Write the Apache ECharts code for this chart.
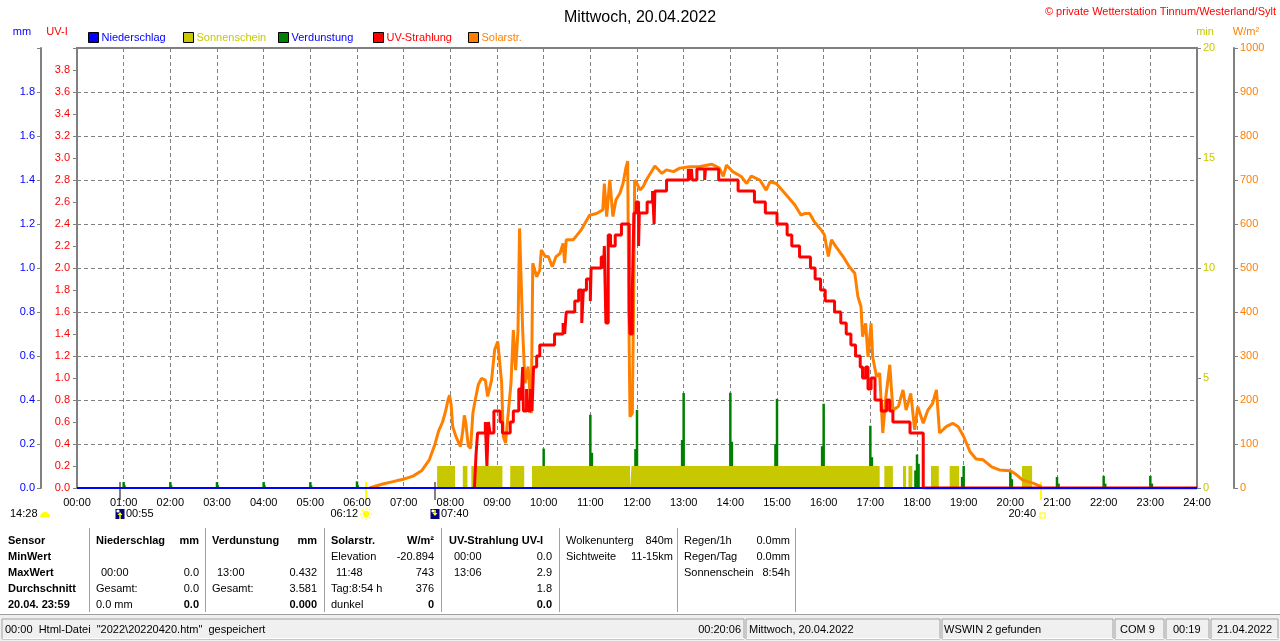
<!DOCTYPE html>
<html><head><meta charset="utf-8">
<script src="https://cdn.jsdelivr.net/npm/echarts/dist/echarts.min.js"></script>
<style>html,body{margin:0;padding:0;background:#fff;}#c{width:1280px;height:641px;}</style>
</head><body><div id="c"></div>
<script>
// ---------- DATA ----------
const hourLabels = ['00:00','01:00','02:00','03:00','04:00','05:00','06:00','07:00','08:00','09:00','10:00','11:00','12:00','13:00','14:00','15:00','16:00','17:00','18:00','19:00','20:00','21:00','22:00','23:00','24:00'];
const seriesNames = ['Niederschlag','Sonnenschein','Verdunstung','UV-Strahlung','Solarstr.'];
// minutes since midnight
const rainData = [[0,0],[1440,0]];
const sunIntervals = [[463,486],[496,502],[507,547],[557,575],[585,711],[713,1032],[1038,1049],[1062,1066],[1069,1074],[1098,1108],[1122,1134],[1215,1228]];
const evapData = [[60,0.027],[61,0.012],[120,0.027],[121,0.012],[180,0.027],[181,0.012],[240,0.027],[241,0.012],[300,0.027],[301,0.012],[360,0.03],[361,0.012],
  [480,0.052],[482,0.024],[538,0.05],[540,0.1],[598,0.09],[600,0.179],[660,0.333],[662,0.16],[718,0.177],[720,0.355],[778,0.218],[780,0.432],
  [840,0.433],[842,0.21],[898,0.2],[900,0.405],[958,0.19],[960,0.383],[1020,0.283],[1022,0.14],[1078,0.08],[1080,0.152],[1082,0.11],
  [1138,0.05],[1140,0.1],[1200,0.079],[1202,0.04],[1260,0.05],[1262,0.02],[1320,0.055],[1322,0.02],[1380,0.055],[1382,0.02]];
const solarData = [[376,0],[378,3],[393,9],[405,14],[415,18],[420,20],[432,27],[443,39],[453,64],[460,98],[465,130],[470,150],[474,175],[477,200],[479,211],[481,190],[483,140],[487,118],[493,94],[496,130],[498,165],[500,147],[503,96],[506,90],[509,170],[512,200],[516,235],[520,249],[525,245],[528,208],[533,245],[537,314],[541,333],[543,336],[546,238],[548,117],[551,102],[554,162],[558,238],[561,359],[564,268],[567,359],[569,590],[571,586],[573,359],[576,238],[580,276],[584,170],[586,511],[591,480],[595,495],[597,541],[602,526],[606,526],[611,503],[616,526],[621,533],[625,556],[627,511],[629,564],[638,564],[648,586],[659,620],[668,624],[676,632],[678,692],[681,617],[685,700],[689,617],[693,655],[698,670],[702,692],[706,730],[708,743],[710,314],[711,162],[714,170],[716,488],[717,700],[720,692],[724,677],[728,685],[732,700],[743,732],[752,715],[758,723],[767,719],[775,727],[788,730],[800,730],[816,736],[826,727],[831,708],[835,734],[843,719],[854,708],[861,692],[867,709],[878,700],[886,677],[891,696],[899,692],[912,666],[923,643],[931,620],[936,624],[942,624],[948,605],[957,586],[961,575],[966,526],[970,564],[976,548],[985,526],[993,503],[1000,488],[1004,435],[1008,412],[1010,344],[1014,374],[1017,298],[1021,374],[1023,298],[1028,253],[1032,261],[1036,125],[1040,208],[1045,280],[1049,177],[1056,185],[1062,223],[1066,177],[1072,215],[1077,132],[1081,185],[1088,147],[1094,177],[1100,192],[1105,223],[1109,125],[1118,140],[1126,147],[1133,139],[1140,117],[1148,83],[1156,66],[1165,64],[1176,48],[1186,41],[1200,39],[1208,30],[1216,18],[1229,11],[1240,3]];
// UV index change points (step)
const uvData = [[511,0],[513,0.3],[515,0.5],[525,0.6],[527,0.2],[529,0.6],[531,0.5],[536,0.7],[544,0.6],[547,0.5],[557,0.6],[561,0.7],[568,0.9],[571,0.8],[573,1.1],[574,0.7],[578,0.9],[580,0.7],[583,0.9],[585,0.7],[587,1.1],[591,1.2],[595,1.3],[614,1.4],[625,1.5],[627,1.4],[629,1.6],[640,1.7],[645,1.8],[649,1.5],[651,1.8],[655,1.9],[660,1.7],[661,2.0],[674,2.1],[677,2.0],[678,2.2],[680,1.5],[683,2.3],[686,2.2],[692,2.3],[700,2.4],[710,1.6],[711,1.4],[714,1.8],[716,2.5],[719,2.6],[722,2.2],[723,2.5],[733,2.6],[740,2.7],[742,2.4],[743,2.7],[758,2.8],[786,2.9],[788,2.8],[790,2.9],[791,2.8],[797,2.9],[807,2.8],[808,2.9],[825,2.8],[850,2.7],[871,2.6],[885,2.5],[900,2.4],[913,2.3],[919,2.2],[929,2.1],[943,2.0],[949,1.9],[956,1.8],[962,1.7],[974,1.6],[982,1.5],[989,1.4],[995,1.3],[1001,1.2],[1007,1.1],[1010,1.0],[1014,1.1],[1017,0.9],[1021,1.0],[1026,0.8],[1034,0.7],[1041,0.8],[1045,0.7],[1049,0.6],[1071,0.5],[1088,0],[1440,0]];
const astroEvents = [ // minute, label, kind
  [55,'00:55','moonrise'],[372,'06:12','sunrise'],[460,'07:40','moonset'],[1240,'20:40','sunset']];
const astroPrev = '14:28';
const tableRowHeads = ['Sensor','MinWert','MaxWert','Durchschnitt','20.04. 23:59'];
const tableCols = [
  {head:['Niederschlag','mm'], rows:[['',''],[' 00:00','0.0'],['Gesamt:','0.0'],['0.0 mm','0.0']]},
  {head:['Verdunstung','mm'], rows:[['',''],[' 13:00','0.432'],['Gesamt:','3.581'],['','0.000']]},
  {head:['Solarstr.','W/m²'], rows:[['Elevation','-20.894'],[' 11:48','743'],['Tag:8:54 h','376'],['dunkel','0']]},
  {head:['UV-Strahlung UV-I',''], rows:[[' 00:00','0.0'],[' 13:06','2.9'],['','1.8'],['','0.0']]}
];
const infoCol1 = [['Wolkenunterg','840m'],['Sichtweite','11-15km']];
const infoCol2 = [['Regen/1h','0.0mm'],['Regen/Tag','0.0mm'],['Sonnenschein','8:54h']];
const statusTexts = ['00:00  Html-Datei  "2022\\20220420.htm"  gespeichert','00:20:06','Mittwoch, 20.04.2022','WSWIN 2 gefunden','COM 9','00:19','21.04.2022'];

// ---------- CHART ----------
const FONT = "'Liberation Sans', Arial, sans-serif";
const GRAY = '#808080';
const sunData = [];
sunIntervals.forEach(iv => { sunData.push([iv[0],1]); sunData.push([iv[1],0]); });

const chart = echarts.init(document.getElementById('c'), null, {renderer:'canvas'});
const legendLeft = [88,183,278,373,468];
const legendText = ['#0000ff','#c8c800','#0000ff','#ff0000','#ff8000'];

function yAx(o){
  return Object.assign({type:'value', axisLine:{show:true, lineStyle:{color:GRAY, width:2}},
    axisTick:{show:true, length:4, lineStyle:{color:GRAY, width:1}},
    splitLine:{show:false}, showMinLabel:true, showMaxLabel:true}, o);
}

chart.setOption({
  animation:false,
  backgroundColor:'#fff',
  textStyle:{fontFamily:FONT},
  title:{text:'Mittwoch, 20.04.2022', left:'center', top:5, textStyle:{fontSize:16, fontWeight:'normal', color:'#000', fontFamily:FONT}},
  legend: seriesNames.map((n,i)=>({data:[n], left:legendLeft[i], top:32, padding:0, itemWidth:10, itemHeight:10, icon:'rect', selectedMode:false,
    itemStyle:{borderColor:'#000', borderWidth:1}, textStyle:{color:legendText[i], fontSize:11, fontFamily:FONT, padding:[0,0,0,-2]}})),
  grid:{left:77, right:83, top:48, bottom:153, show:true, borderColor:GRAY, borderWidth:2, backgroundColor:'transparent', containLabel:false, outerBoundsMode:'none'},
  xAxis:{type:'value', min:0, max:1440, interval:60,
    axisLine:{show:false}, axisTick:{show:false},
    axisLabel:{color:'#000', fontSize:11, margin:9, showMinLabel:true, showMaxLabel:true, formatter:v=>hourLabels[Math.round(v/60)]},
    splitLine:{show:true, lineStyle:{color:GRAY, type:[4,3], width:1}}},
  yAxis:[
    yAx({position:'left', min:0, max:4, interval:0.2, axisLabel:{color:'#ff0000', fontSize:11, margin:7, formatter:v=>v>3.99?'':v.toFixed(1)}}),
    yAx({position:'left', offset:36, min:0, max:2, interval:0.2, axisLabel:{color:'#0000ff', fontSize:11, margin:6, formatter:v=>v>1.99?'':v.toFixed(1)}}),
    yAx({position:'right', min:0, max:20, interval:5, axisLabel:{color:'#c8c800', fontSize:11, margin:6, formatter:v=>String(v)}}),
    yAx({position:'right', offset:37, min:0, max:1000, interval:100, axisLabel:{color:'#ff8000', fontSize:11, margin:6, formatter:v=>String(v)},
      splitLine:{show:true, lineStyle:{color:GRAY, type:[4,3], width:1}}})
  ],
  series:[
    {name:'Sonnenschein', type:'line', yAxisIndex:2, step:'end', data:sunData, symbol:'none', showSymbol:false,
      lineStyle:{width:0, color:'#c8c800'}, itemStyle:{color:'#c8c800'}, areaStyle:{color:'#c8c800', opacity:1}, silent:true},
    {name:'Verdunstung', type:'custom', yAxisIndex:1, data:evapData, itemStyle:{color:'#008000'}, silent:true,
      renderItem:(params, api)=>{
        const top = api.coord([api.value(0), api.value(1)]);
        const base = api.coord([api.value(0), 0]);
        return {type:'rect', shape:{x:top[0]-1.25, y:top[1], width:2.5, height:base[1]-top[1]}, style:{fill:'#008000'}};
      }},
    {name:'Solarstr.', type:'line', yAxisIndex:3, data:solarData, symbol:'none', showSymbol:false,
      lineStyle:{color:'#ff8000', width:3}, itemStyle:{color:'#ff8000'}, silent:true},
    {name:'UV-Strahlung', type:'line', yAxisIndex:0, step:'end', data:uvData, symbol:'none', showSymbol:false,
      lineStyle:{color:'#ff0000', width:3}, itemStyle:{color:'#ff0000'}, silent:true},
    {name:'Niederschlag', type:'line', yAxisIndex:1, data:rainData, symbol:'none', showSymbol:false,
      lineStyle:{color:'#0000ff', width:2}, itemStyle:{color:'#0000ff'}, silent:true}
  ]
});

// ---------- GRAPHICS (axis names, astro markers, table, status bar) ----------
const g = [];
function txt(x,y,t,o){ g.push({type:'text', silent:true, style:Object.assign({x:x, y:y, text:t, fill:'#000', font:'11px '+FONT, textAlign:'left', textVerticalAlign:'middle'}, o||{})}); }
function line(x1,y1,x2,y2,c,w){ g.push({type:'line', silent:true, shape:{x1:x1,y1:y1,x2:x2,y2:y2}, style:{stroke:c, lineWidth:w||1}}); }
function rect(x,y,w,h,st){ g.push({type:'rect', silent:true, shape:{x:x,y:y,width:w,height:h}, style:st}); }

txt(22,32,'mm',{fill:'#0000ff', textAlign:'center'});
txt(57,32,'UV-I',{fill:'#ff0000', textAlign:'center'});
txt(1205,32,'min',{fill:'#c8c800', textAlign:'center'});
txt(1246,32,'W/m²',{fill:'#ff8000', textAlign:'center'});
txt(1276,12,'© private Wetterstation Tinnum/Westerland/Sylt',{fill:'#ff0000', textAlign:'right'});

const yB = chart.convertToPixel({yAxisIndex:0}, 0);
const yI = 514;
// previous-day marker
txt(10,yI,astroPrev);
g.push({type:'sector', silent:true, shape:{cx:45, cy:yI+3, r0:0, r:5, startAngle:Math.PI, endAngle:Math.PI*2, clockwise:true}, style:{fill:'#ffff00'}});
astroEvents.forEach(ev => {
  const x = Math.round(chart.convertToPixel({xAxisIndex:0}, ev[0]));
  const isMoon = ev[2].indexOf('moon')===0;
  line(x, yB-6, x, yB+12, isMoon ? GRAY : '#ffff00', 2);
  if (isMoon) {
    rect(x-4.5, yI-5, 9, 10, {fill:'#000080'});
    g.push({type:'circle', silent:true, shape:{cx:x-2, cy:yI-3, r:1.6}, style:{fill:'#ffffff'}});
    if (ev[2]==='moonrise') g.push({type:'polygon', silent:true, shape:{points:[[x,yI-2],[x-2.5,yI+1],[x+2.5,yI+1]]}, style:{fill:'#ffff00'}});
    else g.push({type:'polygon', silent:true, shape:{points:[[x,yI+2],[x-2.5,yI-1],[x+2.5,yI-1]]}, style:{fill:'#ffff00'}});
    line(x, ev[2]==='moonrise' ? yI+1 : yI-4, x, ev[2]==='moonrise' ? yI+5 : yI-1, '#ffff00', 1.5);
    txt(x+6, yI, ev[1]);
  } else if (ev[2]==='sunrise') {
    g.push({type:'circle', silent:true, shape:{cx:x, cy:yI, r:3.2}, style:{fill:'#ffff00'}});
    for (let k=0;k<8;k++){ const a=k*Math.PI/4; line(x+Math.cos(a)*4.5, yI+Math.sin(a)*4.5, x+Math.cos(a)*6, yI+Math.sin(a)*6, '#ffff00', 1.2); }
    txt(x-8, yI, ev[1], {textAlign:'right'});
  } else {
    rect(x-1, yI-1, 5, 5, {fill:'none', stroke:'#ffff00', lineWidth:1.2});
    txt(x-5, yI, ev[1], {textAlign:'right'});
  }
});

// table
const rowY = [541,557,573,589,605];
const colX = [[96,199],[212,317],[331,434],[449,552]];
tableRowHeads.forEach((t,i)=>txt(8,rowY[i],t,{font:'bold 11px '+FONT}));
tableCols.forEach((c,ci)=>{
  const [x0,x1] = colX[ci];
  txt(x0,rowY[0],c.head[0],{font:'bold 11px '+FONT});
  if (c.head[1]) txt(x1,rowY[0],c.head[1],{font:'bold 11px '+FONT, textAlign:'right'});
  c.rows.forEach((r,ri)=>{
    const last = ri===3;
    if (r[0]) txt(x0 + (r[0][0]===' '?5:0), rowY[ri+1], r[0].trim());
    if (r[1]) txt(x1, rowY[ri+1], r[1], {textAlign:'right', font:(last?'bold ':'')+'11px '+FONT});
  });
});
infoCol1.forEach((r,i)=>{ txt(566,rowY[i],r[0]); txt(673,rowY[i],r[1],{textAlign:'right'}); });
infoCol2.forEach((r,i)=>{ txt(684,rowY[i],r[0]); txt(790,rowY[i],r[1],{textAlign:'right'}); });
[89,205,324,441,559,677,795].forEach(x=>line(x+0.5,528,x+0.5,612,'#a0a0a0',1));

// status bar
rect(0,614,1280,27,{fill:'#f0f0f0'});
line(0,614.5,1280,614.5,'#a0a0a0',1);
const panels = [[2,619,742,20],[746,619,194,20],[942,619,171,20],[1115,619,49,20],[1166,619,43,20],[1211,619,67,20]];
panels.forEach(p=>{
  rect(p[0],p[1],p[2],p[3],{fill:'#f0f0f0', stroke:'#a0a0a0', lineWidth:1});
  line(p[0]+0.5,p[1]+p[3]-0.5,p[0]+p[2],p[1]+p[3]-0.5,'#ffffff',1);
});
const sy = 630;
txt(5,sy,statusTexts[0]);
txt(741,sy,statusTexts[1],{textAlign:'right'});
txt(749,sy,statusTexts[2]);
txt(944,sy,statusTexts[3]);
txt(1120,sy,statusTexts[4]);
txt(1173,sy,statusTexts[5]);
txt(1217,sy,statusTexts[6]);

chart.setOption({graphic:g});
</script></body></html>
